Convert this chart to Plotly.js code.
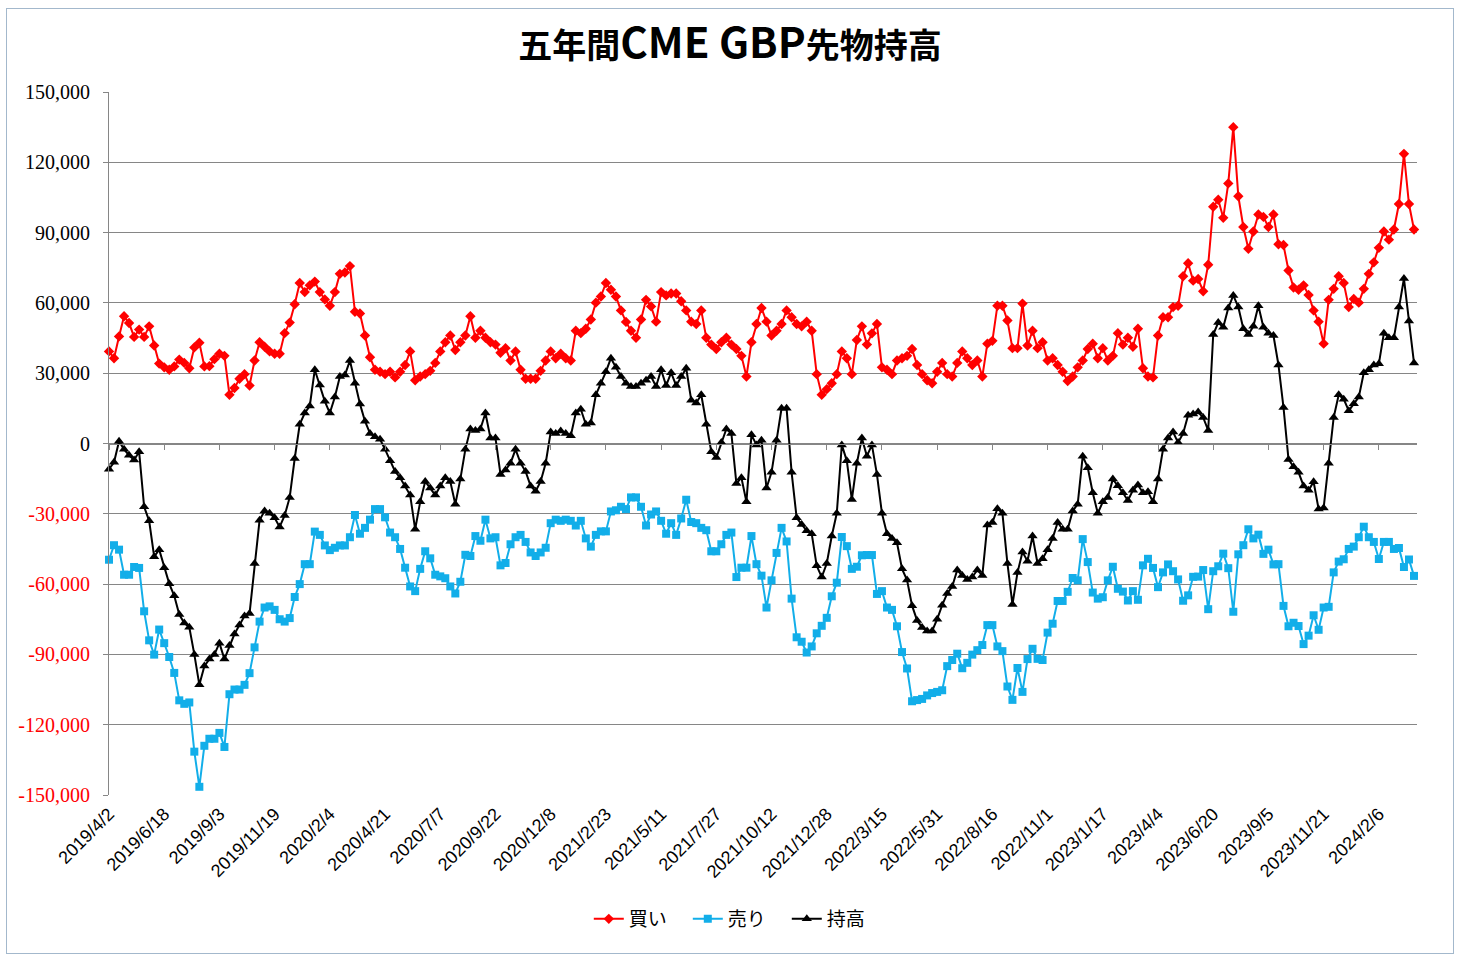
<!DOCTYPE html>
<html><head><meta charset="utf-8">
<script src="https://cdn.plot.ly/plotly-3.0.1.min.js"></script>
<style>
html,body{margin:0;padding:0;background:#fff;}
#chart{width:1460px;height:960px;}
#frame{position:absolute;left:6px;top:8px;width:1448px;height:946px;border:1px solid #a3b8cc;pointer-events:none;box-sizing:border-box;}
</style></head><body>
<div id="chart"></div>
<div id="frame"></div>
<script>
// ---- data (weekly, from 2019/4/2) ----
const firstDate = [2019, 4, 2];
const weekStep = 7;

const buyLong = [
39300,36400,45700,54300,51400,45500,48600,45500,50000,41800,
34100,32500,31500,32900,35800,34400,32100,41000,43000,32900,
33000,36000,38300,37400,20800,23700,27600,29600,24700,35400,
43200,41300,39300,38300,38300,47100,51600,59400,68500,64600,
67500,69100,64600,61500,58800,64600,72400,73000,75700,56200,
55500,46100,36800,31500,30600,29600,30600,28200,30600,33500,
39300,27000,28600,29600,31000,34400,39300,43200,46100,39900,
43200,46100,54300,45100,48100,45100,43200,42200,38700,40700,
35400,39300,31500,27600,27600,27600,31000,35400,39300,36400,
38300,36400,35400,48100,47100,49000,52900,60100,62700,68500,
65600,62700,56800,51900,48100,45100,52900,61300,58500,52000,
64600,63200,64000,64000,60700,56800,52000,51000,56800,45100,
42200,40300,43200,45100,42200,40300,37400,28600,43200,51000,
57800,52000,46100,48100,51000,56800,53900,51000,50000,52000,
48100,29600,20800,23200,25700,29600,39300,36400,29600,44200,
50000,42200,47000,51000,32500,31500,29600,35400,36400,37400,
40300,33500,29600,27000,25700,30600,34400,29600,28600,34400,
39300,36400,33500,35400,28600,42600,43800,58800,58800,52500,
40700,40700,59700,41800,48100,40700,43200,35400,36400,33500,
30600,26700,28600,32500,35400,40300,42600,36400,40700,35400,
37400,47100,42200,45100,41300,49000,32100,28600,28200,46100,
53900,53900,58200,58800,71400,76900,69500,70200,65000,76300,
101000,104000,96300,111000,135000,105500,92400,83100,90500,97700,
96700,92400,97700,85000,84700,73800,66600,65600,67500,63400,
56800,52000,42600,61300,66000,71400,68500,58200,61700,60100,
66000,72400,77300,83500,90500,87000,91300,102200,123600,102200,
91300];

const sellShort = [
-49600,-43400,-45300,-56000,-56000,-52700,-53100,-71600,-84000,-90100,
-79400,-85200,-91100,-97900,-109600,-111100,-110500,-131500,-146500,-129000,
-126000,-126000,-123500,-129500,-107000,-105000,-105000,-103000,-98000,-87000,
-76000,-70000,-69500,-71000,-75000,-76000,-74500,-65500,-60000,-51500,
-51500,-37600,-39000,-43500,-45500,-44500,-43500,-43500,-40000,-30500,
-38500,-36000,-32500,-28000,-28000,-31500,-38000,-40000,-45000,-53000,
-61000,-63000,-53500,-46000,-49000,-56000,-56700,-57500,-61000,-64000,
-59000,-47500,-48000,-39500,-41500,-32500,-40500,-40000,-52000,-51000,
-43000,-40000,-39000,-42000,-46500,-48000,-46500,-44500,-34000,-32500,
-33000,-32500,-33000,-35000,-33000,-40500,-44000,-39000,-37500,-37500,
-29000,-28500,-27000,-28000,-23000,-23000,-27000,-35000,-30300,-29000,
-33000,-38500,-34000,-39000,-32000,-24000,-33500,-34000,-36000,-37000,
-46000,-46000,-43000,-39000,-38000,-57000,-53000,-53000,-39500,-51500,
-56400,-70000,-58400,-46700,-36000,-41800,-66200,-82700,-84600,-89200,
-86600,-81000,-77800,-74400,-65200,-59400,-39900,-43800,-53500,-52600,
-47700,-47600,-47600,-64200,-63000,-70000,-71000,-78000,-89000,-96000,
-110000,-109500,-109000,-107500,-106500,-106000,-105300,-95000,-92400,-89700,
-95900,-93600,-90100,-88200,-86000,-77500,-77500,-86600,-88600,-103700,
-109400,-95800,-106000,-92000,-87600,-91900,-92400,-80700,-76900,-67200,
-67200,-63300,-57400,-58400,-40800,-50600,-63600,-66200,-65600,-58400,
-52600,-62000,-63200,-67000,-63000,-66700,-52000,-49200,-53100,-61300,
-55000,-51600,-54500,-58000,-67100,-64800,-56900,-56800,-54000,-70700,
-54500,-52400,-47000,-53200,-71800,-47300,-43400,-36600,-40500,-38900,
-47100,-45300,-51600,-51500,-69300,-78000,-76500,-77900,-85600,-82000,
-73300,-79500,-70000,-69700,-55000,-50400,-49400,-45000,-44000,-40000,
-35500,-40000,-42000,-49300,-42000,-42000,-45000,-44600,-52700,-49500,
-56500];

const netPosition = [
-11000,-8000,1000,-2500,-5000,-7000,-3500,-27000,-33000,-48300,
-45300,-53000,-59800,-65000,-73000,-76600,-78400,-90000,-103000,-95000,
-92000,-90000,-85200,-92000,-86200,-81300,-77500,-73600,-72600,-51200,
-32700,-28800,-29800,-31700,-35600,-30700,-23000,-6400,8200,13000,
16000,31500,25000,18000,13000,19800,28600,29200,35400,25700,
16900,9500,4300,2900,1800,-2500,-7400,-11900,-14600,-18100,
-22000,-36600,-24900,-16200,-19000,-22000,-18100,-14600,-16200,-25900,
-15200,-2500,6200,5600,6200,13000,2300,2300,-13200,-11300,
-8400,-2500,-8400,-11900,-18100,-20400,-16200,-8400,4900,4300,
5300,4300,3300,13000,14600,8200,8800,20800,25700,30600,
36400,32500,28600,25700,24300,24300,25700,27000,28600,24300,
31500,24700,30200,24700,28600,32100,18500,17300,20800,8200,
-3500,-6000,400,6200,4300,-17100,-14600,-24900,3700,-600,
1400,-19000,-12300,1400,15000,15000,-12300,-31700,-34600,-37200,
-38500,-52200,-57000,-51200,-39500,-29800,-600,-7400,-23900,-8400,
2300,-5400,-600,-13200,-29800,-38500,-40500,-42400,-53500,-58300,
-69200,-75500,-78500,-80000,-80000,-75000,-69000,-64000,-61000,-54000,
-56300,-58000,-57000,-54000,-56300,-34800,-33700,-27800,-29800,-51200,
-68700,-55100,-46300,-50200,-39500,-51200,-49200,-45300,-40500,-33700,
-36600,-36600,-28800,-25900,-5400,-10300,-21000,-29800,-24900,-23000,
-15200,-18000,-21000,-24300,-20000,-17700,-21000,-20600,-24900,-15200,
-2500,2300,4900,400,4300,12100,12600,13400,11100,5600,
46500,51600,49600,57800,63200,58200,49000,46500,50000,58800,
49600,47100,46100,33500,15400,-6800,-9900,-12300,-18100,-20000,
-16300,-28000,-27500,-8400,11100,20800,18900,14000,17000,19800,
30200,31500,33500,34000,47100,45100,45100,58200,70400,52300,
34400];

const seriesNames = ['買い', '売り', '持高'];
const yTickValues = [150000,120000,90000,60000,30000,0,-30000,-60000,-90000,-120000,-150000];
const labelEvery = 11;

// ---- category labels (weekly report dates) ----
const dates = [];
for (let i = 0; i < buyLong.length; i++) {
  const d = new Date(Date.UTC(firstDate[0], firstDate[1]-1, firstDate[2] + weekStep*i));
  dates.push(d.getUTCFullYear() + '/' + (d.getUTCMonth()+1) + '/' + d.getUTCDate());
}
const tickCats = dates.filter((_, i) => i % labelEvery === 0);
const yTickText = yTickValues.map(v => {
  const s = v.toLocaleString('en-US');
  return v < 0 ? '<span style="color:#ff0000">' + s + '</span>' : s;
});

const xRange = [0, dates.length - 0.4];

const traces = [
  {name: seriesNames[0], x: dates, y: buyLong, type:'scatter', mode:'lines+markers',
   line:{color:'#ff0000', width:2}, marker:{symbol:'diamond', size:8, color:'#ff0000'}, cliponaxis:false},
  {name: seriesNames[1], x: dates, y: sellShort, type:'scatter', mode:'lines+markers',
   line:{color:'#12aee9', width:2}, marker:{symbol:'square', size:8, color:'#12aee9'}, cliponaxis:false},
  {name: seriesNames[2], x: dates, y: netPosition, type:'scatter', mode:'lines+markers',
   line:{color:'#000000', width:2}, marker:{symbol:'triangle-up', size:9, color:'#000000'}, cliponaxis:false},
  {x: dates, y: dates.map(() => null), xaxis:'x2', yaxis:'y', type:'scatter', mode:'lines',
   showlegend:false, hoverinfo:'skip'}
];

const layout = {
  width:1460, height:960,
  margin:{l:109, r:43, t:92, b:165},
  paper_bgcolor:'#ffffff', plot_bgcolor:'#ffffff',
  title:{text:'<b>五年間<span style="font-size:42px">CME GBP</span>先物持高</b>',
         font:{family:'"Noto Sans CJK JP", sans-serif', size:34, color:'#000'},
         x:0.5, xref:'container', xanchor:'center', y:1-46/960, yref:'container', yanchor:'middle'},
  xaxis:{type:'category', categoryorder:'array', categoryarray:dates, range:xRange,
         tickmode:'array', tickvals:tickCats, ticktext:tickCats, tickangle:-45,
         showgrid:false, showline:false, ticks:'', zeroline:false, ticklabelstandoff:4,
         tickfont:{family:'"Liberation Sans", sans-serif', size:18, color:'#000'}, automargin:false},
  xaxis2:{type:'category', categoryorder:'array', categoryarray:dates, range:xRange,
          overlaying:'x', anchor:'free', position:0.5, side:'bottom',
          showline:true, linecolor:'#868686', linewidth:1,
          ticks:'outside', ticklen:5, tickcolor:'#868686', tickwidth:1,
          tickmode:'array', tickvals:tickCats, showticklabels:false, showgrid:false, zeroline:false},
  yaxis:{range:[-150001,150001], tickmode:'array', tickvals:yTickValues, ticktext:yTickText,
         showgrid:true, gridcolor:'#868686', gridwidth:1, zeroline:false,
         showline:true, linecolor:'#868686', linewidth:1, ticks:'outside', ticklen:5, tickcolor:'#868686',
         ticklabelstandoff:9,
         tickfont:{family:'"Liberation Serif", serif', size:20, color:'#000'}, automargin:false},
  legend:{orientation:'h', xref:'container', yref:'container', x:0.505, xanchor:'center',
          y:41/960, yanchor:'middle', font:{family:'"Noto Sans CJK JP", sans-serif', size:19, color:'#000'},
          entrywidth:54, traceorder:'normal', bgcolor:'rgba(0,0,0,0)'},
  showlegend:true,
  hovermode:false
};

Plotly.newPlot('chart', traces, layout, {displayModeBar:false, staticPlot:true});
</script>
</body></html>
